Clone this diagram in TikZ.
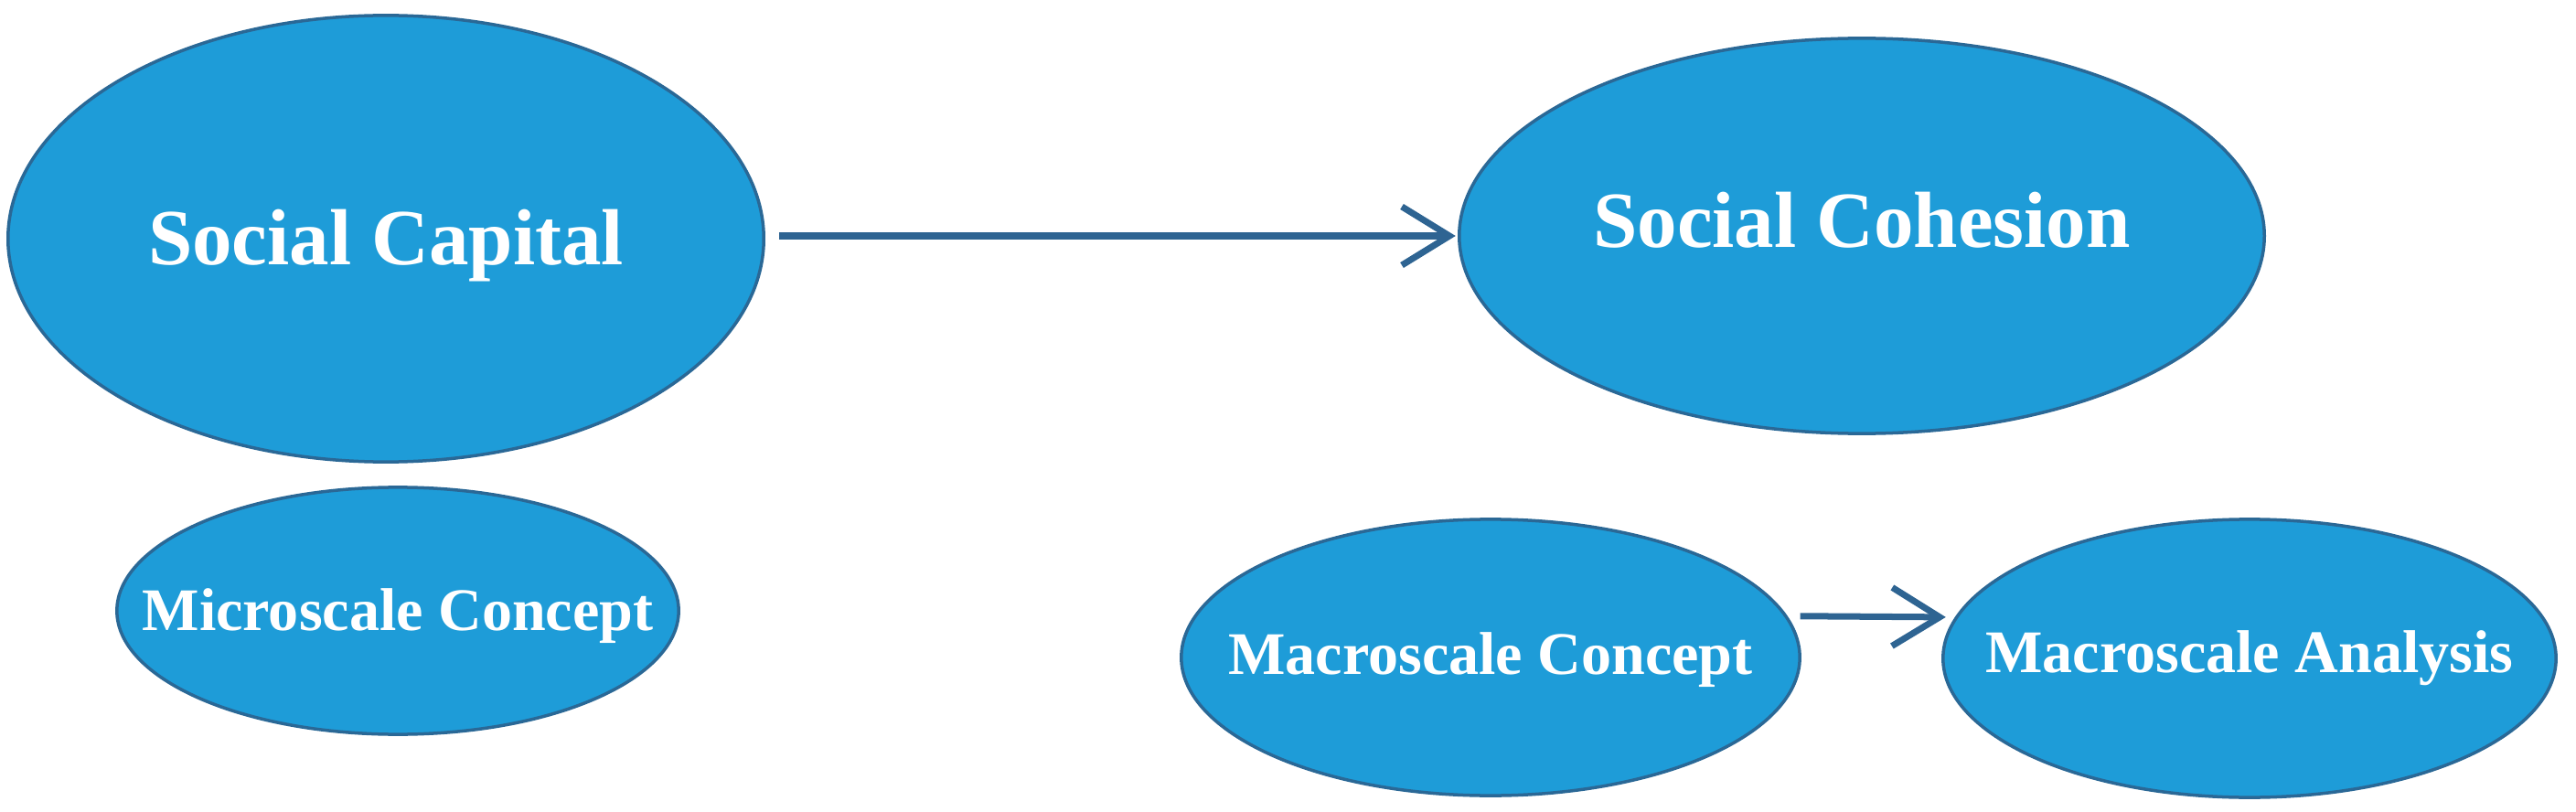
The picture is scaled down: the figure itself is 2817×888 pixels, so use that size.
\documentclass[tikz,border=0pt]{standalone}
\usepackage{fontspec}
\setmainfont{Liberation Serif}
\usetikzlibrary{shapes.geometric,arrows.meta}
\definecolor{ellfill}{RGB}{30,156,216}
\definecolor{ellborder}{RGB}{42,104,150}
\definecolor{arrcol}{RGB}{46,100,146}
\tikzset{
  ell/.style={ellipse, fill=ellfill, draw=ellborder, line width=0.035cm, inner sep=0pt, outer sep=0pt},
  bigtxt/.style={text=white, font=\fontsize{24.75}{30}\selectfont\bfseries, inner sep=0pt, text height=0.575cm, text depth=0pt},
  smalltxt/.style={text=white, font=\fontsize{18.8}{23}\selectfont\bfseries, inner sep=0pt, text height=0.437cm, text depth=0pt},
  arr/.style={draw=arrcol, line width=0.07cm, -{Straight Barb[length=5.2mm,width=6.4mm]}}
}
\begin{document}
\begin{tikzpicture}[x=0.01cm, y=-0.01cm]
\useasboundingbox (0,0) rectangle (2817,888);
\node[ell, minimum width=8.26cm, minimum height=4.88cm,
  label={[bigtxt]center:Social Capital}] (sc) at (422,261) {};
\node[ell, minimum width=8.80cm, minimum height=4.32cm,
  label={[bigtxt, text depth=0.32cm]center:Social Cohesion}] (coh) at (2036,258) {};
\node[ell, minimum width=6.14cm, minimum height=2.70cm,
  label={[smalltxt]center:Microscale Concept}] (micro) at (435,668) {};
\node[ell, minimum width=6.76cm, minimum height=3.02cm,
  label={[smalltxt, text depth=0.06cm]center:Macroscale Concept}] (mc) at (1630,719) {};
\node[ell, minimum width=6.70cm, minimum height=3.04cm,
  label={[smalltxt, text depth=0.12cm]center:Macroscale Analysis}] (ma) at (2460,720) {};
\draw[arr, shorten <=0.17cm, shorten >=0.04cm] (sc.east |- coh.west) -- (coh.west);
\draw[arr, shorten <=0.16cm, shorten >=0.12cm] (mc.8) -- (ma.172);
\end{tikzpicture}
\end{document}
